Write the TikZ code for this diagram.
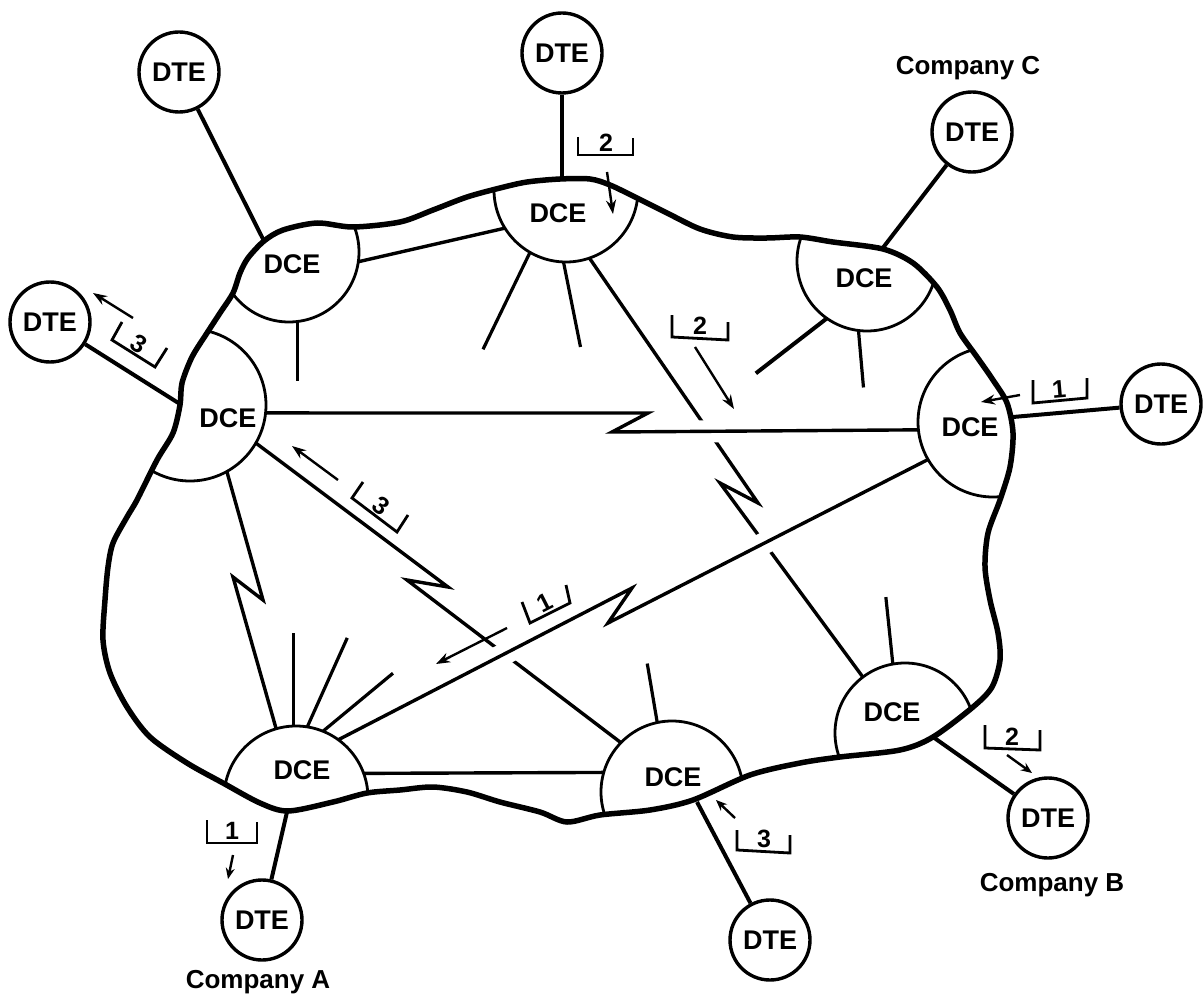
\documentclass[tikz,border=0pt]{standalone}
\usepackage{fontspec}
\setmainfont{Liberation Sans}
\usetikzlibrary{arrows.meta}
\begin{document}
\begin{tikzpicture}[x=1pt,y=-1pt,
  dte/.style={circle,draw,line width=3.4pt,minimum size=80pt,inner sep=0pt,font=\bfseries\fontsize{27pt}{27pt}\selectfont},
  dcecirc/.style={circle,draw,line width=2.8pt,inner sep=0pt,outer sep=0pt,minimum size=#1},
  dcelab/.style={inner sep=0pt,font=\bfseries\fontsize{27pt}{27pt}\selectfont},
  comp/.style={inner sep=0pt,font=\bfseries\fontsize{26pt}{26pt}\selectfont},
  cloud/.style={line width=5.5pt,line join=round},
  link/.style={line width=4pt},
  wire/.style={line width=3.4pt},
  stub/.style={line width=3.2pt},
  stubthick/.style={line width=4pt},
  halo/.style={preaction={draw=white,line width=22pt,line join=round,shorten <=45pt,shorten >=45pt}},
  pkt/.style={line width=2.8pt,line join=miter},
  pnum/.style={inner sep=0pt,font=\bfseries\fontsize{25pt}{25pt}\selectfont},
  msg/.style={line width=2.4pt,-{Stealth[length=14pt,width=10pt]}},
  msgsmall/.style={line width=2.4pt,-{Stealth[length=11pt,width=9pt]}}
]
\useasboundingbox (0,0) rectangle (1204,1000);

% DCE circles, clipped to the inside of the network cloud
\begin{scope}
\clip plot[smooth cycle,tension=0.5] coordinates {
(180,405) (182,383) (192,357) (207,333) (220,313) (233,293) (240,273) (248,258) (264,241) (283,230) (317,223) (353,227) (400,222)
(433,210) (467,197) (500,188) (527,182) (560,179) (590,179) (610,185) (637,198) (667,213) (700,229) (733,237) (767,238) (800,237)
(833,242) (883,249) (913,263) (937,287) (950,310) (960,333) (977,357) (993,380) (1007,403) (1013,433) (1010,467) (1000,500)
(988,533) (985,567) (990,600) (998,633) (1000,660) (992,687) (973,707) (933,737) (900,750) (840,757) (800,763)
(750,775) (693,800) (650,810) (600,815) (567,822) (540,812) (500,802) (467,792) (433,787) (400,790) (367,793) (333,802)
(288,811) (260,803) (223,783) (187,763) (150,737) (127,707) (110,673) (103,640) (105,600) (108,567) (113,543) (127,517)
(137,500) (157,460) (173,433)};
\node[dcecirc=140pt] (dTL) at (289,252) {};
\node[dcecirc=144pt] (dT) at (566,190) {};
\node[dcecirc=140pt] (dTR) at (867,261) {};
\node[dcecirc=152pt] (dL) at (190,405) {};
\node[dcecirc=150pt] (dR) at (993,422) {};
\node[dcecirc=140pt] (dBR) at (905,733) {};
\node[dcecirc=142pt] (dBM) at (672,792) {};
\node[dcecirc=144pt] (dBL) at (296,798) {};
\end{scope}

\node[dcelab] (lTL) at (292,264) {DCE};
\node[dcelab] (lT) at (558,213) {DCE};
\node[dcelab] (lTR) at (864,278) {DCE};
\node[dcelab] (lL) at (228,418) {DCE};
\node[dcelab] (lR) at (970,427) {DCE};
\node[dcelab] (lBR) at (892,712) {DCE};
\node[dcelab] (lBM) at (673,777) {DCE};
\node[dcelab] (lBL) at (302,770) {DCE};

% links inside the network
\draw[wire] (dTL.-8) -- (dT.212);
\draw[stub] (dTL.-83) -- ++(0,60);
\draw[stub] (dT.-120) -- ++(-47,97);
\draw[stub] (dT.-92) -- ++(17,85);
\draw[wire] (dT.-71) -- (758,503) -- (720,483) -- (dBR.127);
\draw[stubthick] (dTR.-125) -- ++(-71,55);
\draw[stub] (dTR.-97) -- ++(5,57);
\draw[wire] (dL.-30) -- (448,587) -- (407,580) -- (dBM.136);
\draw[wire] (dL.-61) -- (263,600) -- (233,577) -- (dBL.106);
\draw[stub] (dBL.92) -- ++(0,-93);
\draw[stub] (dBL.81) -- ++(40,-89);
\draw[stub] (dBL.68) -- ++(70,-58);
\draw[wire] (dBL.20) -- (dBM.164);
\draw[stub] (dBM.102) -- ++(-10,-59);
\draw[stub] (dBR.100) -- ++(-7,-67);
\draw[wire,halo] (dL.-6) -- (648,413) -- (612,432) -- (dR.186);
\draw[wire,halo] (dBL.54) -- (632,588) -- (608,623) -- (dR.210);

% network boundary
\draw[cloud] plot[smooth cycle,tension=0.5] coordinates {
(180,405) (182,383) (192,357) (207,333) (220,313) (233,293) (240,273) (248,258) (264,241) (283,230) (317,223) (353,227) (400,222)
(433,210) (467,197) (500,188) (527,182) (560,179) (590,179) (610,185) (637,198) (667,213) (700,229) (733,237) (767,238) (800,237)
(833,242) (883,249) (913,263) (937,287) (950,310) (960,333) (977,357) (993,380) (1007,403) (1013,433) (1010,467) (1000,500)
(988,533) (985,567) (990,600) (998,633) (1000,660) (992,687) (973,707) (933,737) (900,750) (840,757) (800,763)
(750,775) (693,800) (650,810) (600,815) (567,822) (540,812) (500,802) (467,792) (433,787) (400,790) (367,793) (333,802)
(288,811) (260,803) (223,783) (187,763) (150,737) (127,707) (110,673) (103,640) (105,600) (108,567) (113,543) (127,517)
(137,500) (157,460) (173,433)};

% DTEs and their access lines
\node[dte] (tTL) at (179,72) {DTE};
\node[dte] (tT) at (562,53) {DTE};
\node[dte] (tC) at (972,132) {DTE};
\node[dte] (tL) at (50,322) {DTE};
\node[dte] (tR) at (1161,404) {DTE};
\node[dte] (tB) at (1048,818) {DTE};
\node[dte] (tBM) at (770,940) {DTE};
\node[dte] (tA) at (262,920) {DTE};

\coordinate (pTL) at (264,241);
\coordinate (pT) at (562,180);
\coordinate (pC) at (882,249);
\coordinate (pL) at (180,404);
\coordinate (pR) at (1013,417);
\coordinate (pB) at (933,737);
\coordinate (pBM) at (697,802);
\coordinate (pA) at (287,812);

\draw[link] (tTL) -- (pTL);
\draw[link] (tT) -- (pT);
\draw[link] (tC) -- (pC);
\draw[link] (tL) -- (pL);
\draw[link] (tR) -- (pR);
\draw[link] (tB) -- (pB);
\draw[link] (tBM) -- (pBM);
\draw[link] (tA) -- (pA);

\node[comp] (cA) at (258,982) {Company A};
\node[comp] (cB) at (1052,885) {Company B};
\node[comp] (cC) at (968,68) {Company C};

% packets
\draw[pkt] (122,322) -- (112,340) -- (155,367) -- (167,348);
\node[pnum,rotate=-32] (k1) at (139,344) {3};
\draw[msg] (133,318) -- (93,293);

\draw[pkt] (578,137) -- (578,155) -- (633,155) -- (633,138);
\node[pnum] (k2) at (606,143) {2};
\draw[msg] (607,172) -- (613,214);

\draw[pkt] (672,315) -- (672,337) -- (728,340) -- (728,322);
\node[pnum] (k3) at (700,326) {2};
\draw[msg] (695,347) -- (734,409);

\draw[pkt] (1033,380) -- (1033,403) -- (1087,398) -- (1087,378);
\node[pnum,rotate=5] (k4) at (1059,389) {1};
\draw[msg] (1020,395) -- (981,402);

\draw[pkt] (363,482) -- (352,498) -- (397,532) -- (408,515);
\node[pnum,rotate=-37] (k5) at (381,506) {3};
\draw[msg] (338,480) -- (292,446);

\draw[pkt] (522,602) -- (530,623) -- (570,603) -- (566,585);
\node[pnum,rotate=27] (k6) at (545,603) {1};
\draw[msg] (507,628) -- (436,664);

\draw[pkt] (207,820) -- (207,843) -- (257,843) -- (257,822);
\node[pnum] (k7) at (232,831) {1};
\draw[msgsmall] (233,855) -- (228,879);

\draw[pkt] (737,830) -- (737,850) -- (790,853) -- (790,835);
\node[pnum] (k8) at (764,839) {3};
\draw[msgsmall] (735,818) -- (716,800);

\draw[pkt] (985,725) -- (985,748) -- (1040,750) -- (1040,730);
\node[pnum] (k9) at (1012,737) {2};
\draw[msgsmall] (1007,755) -- (1032,773);
\end{tikzpicture}
\end{document}
